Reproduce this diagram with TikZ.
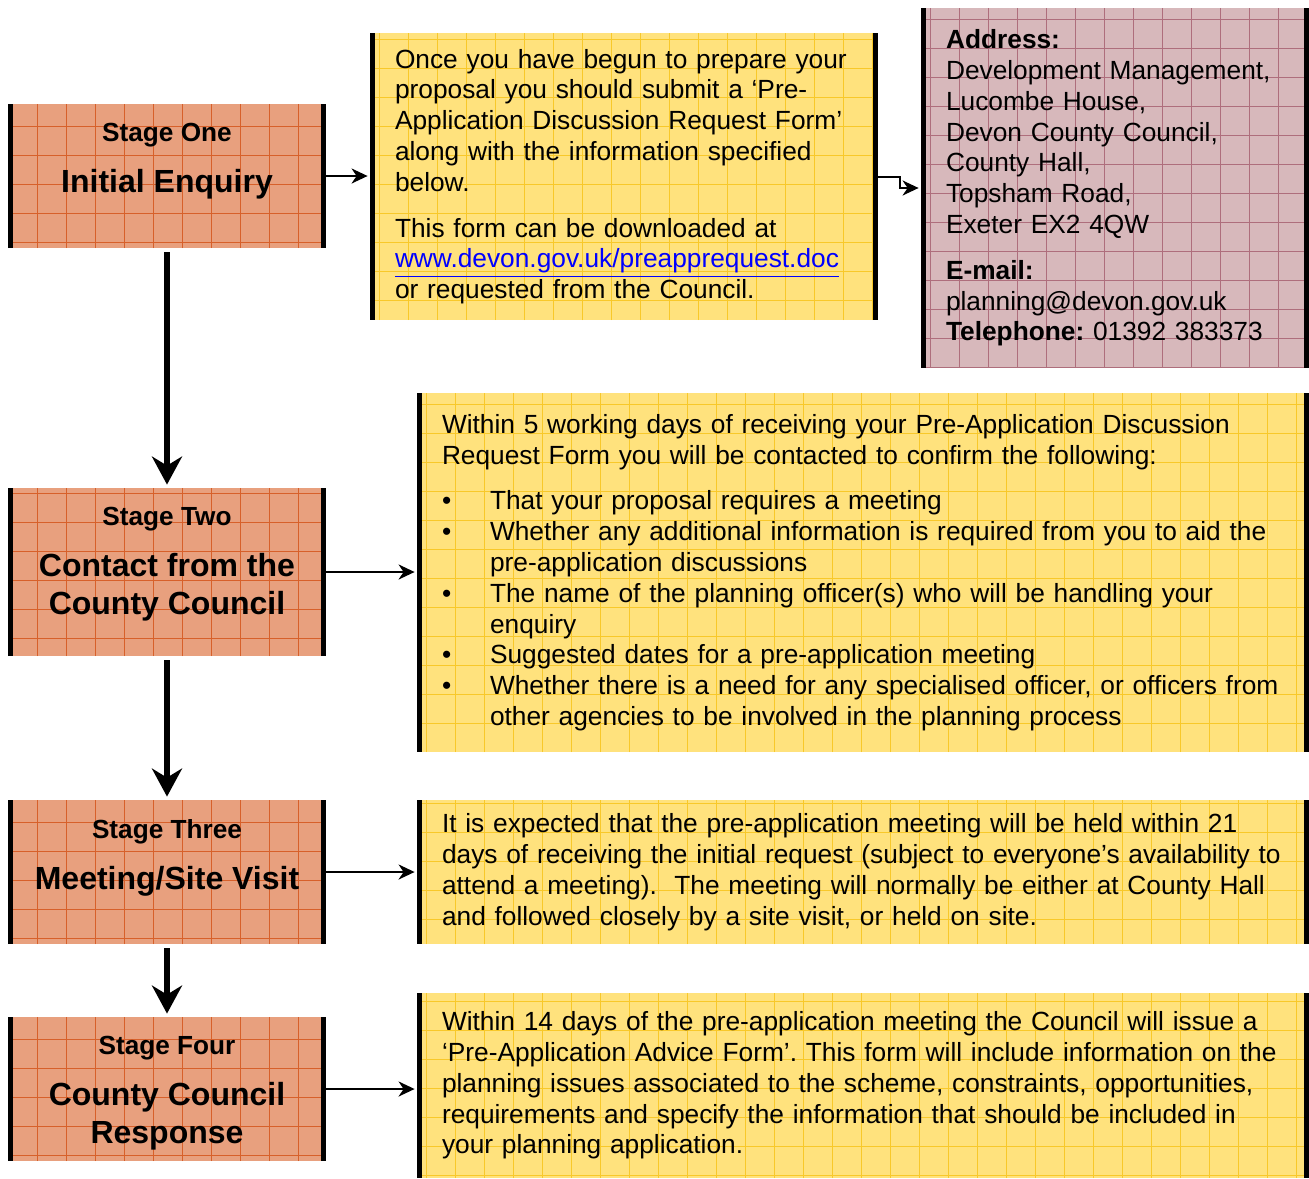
\documentclass[tikz,border=0pt]{standalone}
\usepackage{fontspec}
\setmainfont{Liberation Sans}
\usetikzlibrary{arrows.meta}
\definecolor{stagec}{HTML}{E8A07E}
\definecolor{stagegrid}{HTML}{D7602A}
\definecolor{notec}{HTML}{FFE27D}
\definecolor{notegrid}{HTML}{F8C82A}
\definecolor{addrc}{HTML}{D7B8BB}
\definecolor{addrgrid}{HTML}{AE6E7C}
\definecolor{linkc}{HTML}{0000FF}
\frenchspacing

% stage label: small title, then the big bold name, top aligned in a box of height #1
\newcommand\stagetext[3]{\parbox[c][#1][t]{159pt}{\centering\vspace*{9.75pt}%
  {\fontsize{13.1}{16}\selectfont #2\par}\vspace{6.5pt}%
  #3\par}}
\newcommand\bul{\makebox[24pt][l]{\textbullet}}

\begin{document}
\begin{tikzpicture}[
    x=0.5pt, y=-0.5pt,
    panel/.style 2 args={fill=#1, path picture={
      \draw[#2,line width=0.45pt] (path picture bounding box.south west) grid[step=14.5pt] (path picture bounding box.north east);
      \fill[black] (path picture bounding box.south west) rectangle ([xshift=2.5pt]path picture bounding box.north west);
      \fill[black] ([xshift=-2.5pt]path picture bounding box.south east) rectangle (path picture bounding box.north east);
    }},
    stagebox/.style={panel={stagec}{stagegrid}, inner sep=0pt, minimum width=159pt,
      font=\bfseries\fontsize{16}{19}\selectfont},
    textbox/.style={panel={#1c}{#1grid}, inner xsep=4.5pt, inner ysep=2pt, align=left,
      font=\fontsize{13.15}{15.4}\selectfont, execute at begin node={\leftskip=8pt}},
    textbox/.default=note,
    flow/.style={-{Stealth[length=14pt,width=15pt,inset=4.5pt]}, line width=2.8pt,
      shorten <=2pt, shorten >=1.5pt},
    link/.style={-{Stealth[length=8pt,width=7.5pt,inset=2.5pt]}, line width=1pt, shorten >=1pt},
  ]
\useasboundingbox (0,0) rectangle (1309,1178);

% ======================= stages (left column) =======================
\node[stagebox] (s1) at (167,176) {\stagetext{72pt}{Stage One}{Initial Enquiry}};
\node[stagebox] (s2) at (167,572) {\stagetext{84pt}{Stage Two}{Contact from the\\County Council}};
\node[stagebox] (s3) at (167,872) {\stagetext{72pt}{Stage Three}{Meeting/Site Visit}};
\node[stagebox] (s4) at (167,1089) {\stagetext{72pt}{Stage Four}{County Council\\Response}};

% ======================= notes (right column) =======================
\node[textbox, minimum width=254pt, text width=245pt, minimum height=143.5pt] (info1) at (624,176.5)
  {Once you have begun to prepare your\\
   proposal you should submit a ‘Pre-\\
   Application Discussion Request Form’\\
   along with the information specified\\
   below.\\[7.5pt]
   This form can be downloaded at\\
   \textcolor{linkc}{\underline{www.devon.gov.uk/preapprequest.doc}}\\
   or requested from the Council.};

\node[textbox=addr, minimum width=194pt, text width=185pt, minimum height=180pt] (addr) at (1115,188)
  {\textbf{Address:}\\
   Development Management,\\
   Lucombe House,\\
   Devon County Council,\\
   County Hall,\\
   Topsham Road,\\
   Exeter EX2 4QW\\[7.5pt]
   \textbf{E-mail:}\\
   planning@devon.gov.uk\\
   \textbf{Telephone:} 01392 383373};

\node[textbox, minimum width=446pt, text width=437pt, minimum height=179.5pt] (info2) at (863,572.5)
  {Within 5 working days of receiving your Pre-Application Discussion\\
   Request Form you will be contacted to confirm the following:\\[7.5pt]
   \bul That your proposal requires a meeting\\
   \bul Whether any additional information is required from you to aid the\\
   \hspace*{24pt}pre-application discussions\\
   \bul The name of the planning officer(s) who will be handling your\\
   \hspace*{24pt}enquiry\\
   \bul Suggested dates for a pre-application meeting\\
   \bul Whether there is a need for any specialised officer, or officers from\\
   \hspace*{24pt}other agencies to be involved in the planning process};

\node[textbox, minimum width=446pt, text width=437pt, minimum height=72pt] (info3) at (863,872)
  {It is expected that the pre-application meeting will be held within 21\\
   days of receiving the initial request (subject to everyone’s availability to\\
   attend a meeting).~ The meeting will normally be either at County Hall\\
   and followed closely by a site visit, or held on site.};

\node[textbox, minimum width=446pt, text width=437pt, minimum height=92.5pt] (info4) at (863,1085.5)
  {Within 14 days of the pre-application meeting the Council will issue a\\
   ‘Pre-Application Advice Form’. This form will include information on the\\
   planning issues associated to the scheme, constraints, opportunities,\\
   requirements and specify the information that should be included in\\
   your planning application.};

% ======================= arrows =======================
\draw[flow] (s1) -- (s2);
\draw[flow] (s2) -- (s3);
\draw[flow] (s3) -- (s4);

\draw[link] (s1.east) -- (s1.east -| info1.west);
\draw[link] (info1.east) -- ++(11pt,0) |- (addr.west);
\draw[link] (s2.east) -- (s2.east -| info2.west);
\draw[link] (s3.east) -- (s3.east -| info3.west);
\draw[link] (s4.east) -- (s4.east -| info4.west);

\end{tikzpicture}
\end{document}
